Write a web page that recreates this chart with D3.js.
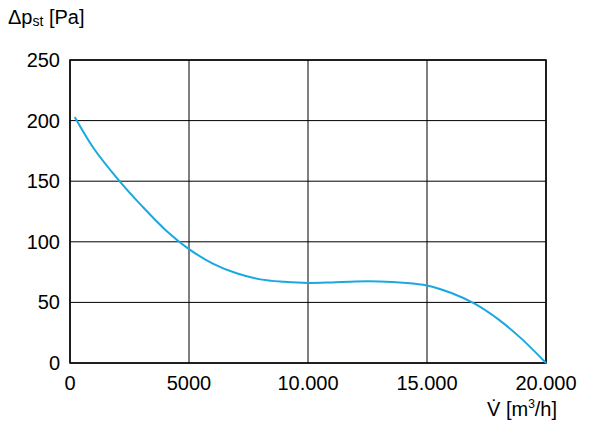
<!DOCTYPE html><html><head><meta charset="utf-8">
<script src="https://cdn.jsdelivr.net/npm/d3@7"></script>
<style>body{margin:0;background:#fff}text{font-family:"Liberation Sans Narrow","Liberation Sans",Arial,sans-serif}</style>
</head><body><svg id="c" width="600" height="424"></svg><script>
const xTicks=[0,5000,10000,15000,20000];
const xTickLabels=["0","5000","10.000","15.000","20.000"];
const yTicks=[0,50,100,150,200,250];
const flow=[200,1000,2000,3000,4000,5000,6000,7000,8000,9000,10000,11000,12000,13000,14000,15000,16000,17000,18000,19000,20000];
const pressure=[203,177,152,130,110,94,82,74,69,67,66,66.5,67.3,67.3,66.3,64,58,49,36,19.5,0];
const svg=d3.select("#c");
const x=d3.scaleLinear().domain([0,20000]).range([70,546]);
const y=d3.scaleLinear().domain([0,250]).range([363,60]);
const g=svg.append("g");
g.selectAll(".vx").data(xTicks).join("line").attr("x1",d=>x(d)).attr("x2",d=>x(d)).attr("y1",y(0)).attr("y2",y(250)).attr("stroke","#000").attr("stroke-width",1);
g.selectAll(".hy").data(yTicks).join("line").attr("x1",x(0)).attr("x2",x(20000)).attr("y1",d=>y(d)).attr("y2",d=>y(d)).attr("stroke","#000").attr("stroke-width",1);
g.append("rect").attr("x",x(0)).attr("y",y(250)).attr("width",x(20000)-x(0)).attr("height",y(0)-y(250)).attr("fill","none").attr("stroke","#000").attr("stroke-width",1.5);
svg.append("path").datum(flow.map((f,i)=>[f,pressure[i]])).attr("fill","none").attr("stroke","#1aa8e0").attr("stroke-width",2)
 .attr("d",d3.line().x(d=>x(d[0])).y(d=>y(d[1])).curve(d3.curveCatmullRom.alpha(0.5)));
svg.selectAll(".yl").data(yTicks).join("text").attr("x",60).attr("y",d=>y(d)+7).attr("text-anchor","end").attr("font-size",20).text(d=>d);
svg.selectAll(".xl").data(xTicks).join("text").attr("x",d=>x(d)).attr("y",390).attr("text-anchor","middle").attr("font-size",20).text((d,i)=>xTickLabels[i]);
const t=svg.append("text").attr("x",8).attr("y",24).attr("font-size",20);
t.append("tspan").text("Δp");t.append("tspan").attr("font-size",14).attr("dy",2).text("st");t.append("tspan").attr("dy",-2).text(" [Pa]");
const t2=svg.append("text").attr("x",487).attr("y",416).attr("font-size",20);
t2.append("tspan").text("V̇ [m");t2.append("tspan").attr("font-size",12).attr("dy",-8).text("3");t2.append("tspan").attr("dy",8).text("/h]");
</script></body></html>
